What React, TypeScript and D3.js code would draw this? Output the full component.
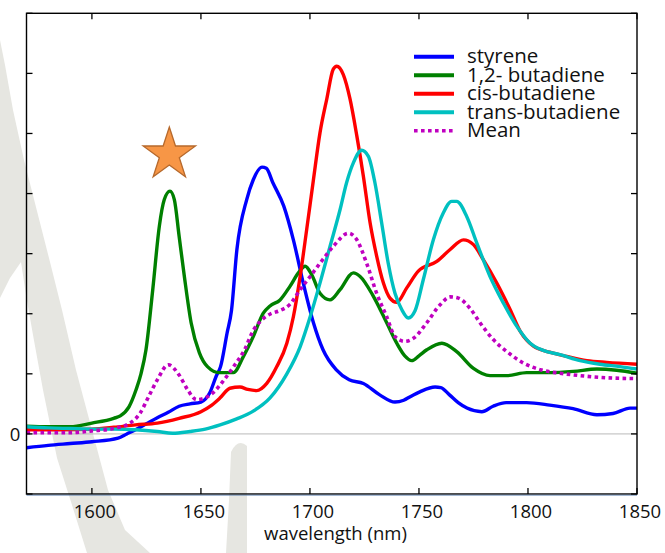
import React from "react";
import * as d3 from "d3";

const W = 665;
const H = 553;

const seriesNames = ["styrene", "1,2- butadiene", "cis-butadiene", "trans-butadiene", "Mean"];
const seriesColors = ["#0000ff", "#008000", "#ff0000", "#00c0c0", "#c000c0"];

const xTicks = [1600, 1650, 1700, 1750, 1800, 1850];
const yTicks = [-1, 0, 1, 2, 3, 4, 5, 6, 7];
const yTickLabels = ["", "0", "", "", "", "", "", "", ""];

const styrene: [number, number][] = [
  [1570, -0.23], [1580, -0.19], [1590, -0.16], [1600, -0.13], [1612, -0.07], [1616, 0], [1620, 0.07],
  [1625, 0.17], [1630, 0.27], [1635, 0.36], [1640, 0.46], [1645, 0.5], [1650, 0.53], [1654, 0.68],
  [1657, 0.96], [1659, 1.12], [1662, 1.68], [1664, 2.05], [1666.5, 3.07], [1671, 3.9], [1674, 4.23],
  [1678, 4.44], [1680, 4.42], [1683, 4.18], [1688, 3.79], [1692.4, 3.23], [1697, 2.5], [1701.6, 1.85],
  [1706, 1.4], [1712, 1.07], [1718, 0.9], [1724.5, 0.84], [1732, 0.65], [1739, 0.53], [1743, 0.56],
  [1746, 0.62], [1750.4, 0.7], [1757.4, 0.78], [1760, 0.77], [1764, 0.65], [1768, 0.52], [1772, 0.43],
  [1778.8, 0.37], [1784, 0.46], [1790, 0.52], [1799.4, 0.52], [1810, 0.48], [1820.7, 0.42],
  [1831.6, 0.32], [1839, 0.34], [1846.8, 0.43], [1850, 0.43],
];

const butadiene12: [number, number][] = [
  [1570, 0.13], [1580, 0.12], [1590, 0.12], [1600, 0.18], [1610, 0.26], [1613, 0.3], [1617, 0.45],
  [1620.2, 0.73], [1622.5, 1.0], [1624.8, 1.4], [1627.9, 2.4], [1630.9, 3.45], [1633.2, 3.9],
  [1635.8, 4.04], [1637.8, 3.9], [1640, 3.29], [1642.4, 2.62], [1645.5, 1.85], [1649.3, 1.35],
  [1653, 1.12], [1658.4, 1.02], [1664.9, 1.02], [1669.5, 1.29], [1674, 1.62], [1678.6, 2.01],
  [1681.7, 2.13], [1686.3, 2.23], [1690.9, 2.46], [1694.7, 2.68], [1697.8, 2.79], [1700.8, 2.65],
  [1704.6, 2.34], [1709.2, 2.23], [1713.8, 2.4], [1719.9, 2.68], [1723, 2.62], [1729.1, 2.29],
  [1735.2, 1.85], [1739.8, 1.51], [1743.5, 1.3], [1746.7, 1.22], [1750, 1.3], [1753.6, 1.4],
  [1760.5, 1.51], [1767.3, 1.37], [1775, 1.09], [1782.6, 0.97], [1790.3, 0.97], [1799.4, 1.02],
  [1810, 1.02], [1820.8, 1.04], [1831.6, 1.08], [1840.7, 1.06], [1850, 1.01],
];

const cisButadiene: [number, number][] = [
  [1570, 0.07], [1585, 0.07], [1600, 0.08], [1610, 0.11], [1620, 0.15], [1630, 0.18], [1640, 0.26],
  [1650, 0.37], [1655, 0.48], [1658.8, 0.6], [1663.3, 0.76], [1667.9, 0.78], [1671.5, 0.74],
  [1675.6, 0.72], [1680.2, 0.84], [1684.8, 1.12], [1689.4, 1.51], [1692.4, 1.95], [1695.5, 2.62],
  [1698.5, 3.4], [1701.6, 4.23], [1704.6, 5.01], [1707.7, 5.57], [1710.7, 6.07], [1712.3, 6.12],
  [1715.3, 5.98], [1718.4, 5.57], [1721.5, 4.96], [1724.5, 4.29], [1727.6, 3.51], [1730.6, 2.96],
  [1733.7, 2.51], [1736.7, 2.26], [1739.8, 2.19], [1744.4, 2.43], [1749.7, 2.71], [1758.2, 2.87],
  [1764.3, 3.07], [1770.4, 3.23], [1775, 3.15], [1779.5, 2.9], [1785.7, 2.51], [1791.8, 2.07],
  [1796.4, 1.71], [1802.5, 1.46], [1810, 1.36], [1817.8, 1.29], [1827, 1.22], [1836.1, 1.19],
  [1850, 1.16],
];

const transButadiene: [number, number][] = [
  [1570, 0.12], [1580, 0.1], [1590, 0.09], [1600, 0.08], [1610, 0.08], [1620, 0.07], [1630, 0.04],
  [1637, 0.01], [1645, 0.04], [1652, 0.08], [1658.8, 0.15], [1666.4, 0.25], [1674, 0.38],
  [1681.7, 0.6], [1689.4, 1.0], [1695.5, 1.45], [1700.1, 1.95], [1704.6, 2.51], [1709.2, 3.12],
  [1713.8, 3.73], [1716.8, 4.18], [1719.9, 4.51], [1723.7, 4.72], [1726.8, 4.62], [1729.8, 4.18],
  [1732.9, 3.51], [1735.9, 2.84], [1739, 2.34], [1742.1, 2.07], [1745.1, 1.93], [1748.2, 2.05],
  [1752, 2.57], [1756.6, 3.23], [1761.2, 3.68], [1765, 3.87], [1767.3, 3.87], [1771.9, 3.62],
  [1776.5, 3.18], [1782.6, 2.62], [1788.7, 2.18], [1794.9, 1.79], [1801, 1.51], [1807, 1.39],
  [1814.7, 1.32], [1823.9, 1.22], [1833, 1.16], [1842.2, 1.12], [1850, 1.08],
];

const meanSeries: [number, number][] = [
  [1570, 0.02], [1590, 0.02], [1600, 0.05], [1610, 0.09], [1617, 0.17], [1622, 0.34], [1626, 0.62],
  [1630, 0.9], [1635, 1.15], [1640, 0.98], [1644, 0.73], [1648, 0.57], [1652, 0.6], [1656, 0.7],
  [1660, 0.87], [1665, 1.12], [1670, 1.4], [1674, 1.72], [1678, 1.9], [1682, 2.0], [1686, 2.05],
  [1690.9, 2.16], [1695.5, 2.4], [1700.1, 2.62], [1704.6, 2.84], [1710.7, 3.12], [1717.6, 3.34],
  [1721.5, 3.23], [1726, 2.84], [1730.6, 2.34], [1735.2, 1.95], [1739, 1.62], [1743.6, 1.54],
  [1747.4, 1.59], [1753.6, 1.85], [1759.7, 2.15], [1764.3, 2.28], [1768.1, 2.26], [1773.4, 2.09],
  [1778, 1.85], [1784.1, 1.57], [1790.3, 1.37], [1797.9, 1.18], [1805.5, 1.07], [1814.7, 1.01],
  [1823.9, 0.97], [1833, 0.94], [1850, 0.92],
];

const allSeries = [styrene, butadiene12, cisButadiene, transButadiene, meanSeries];

// star marker position (data units)
const starPoint: [number, number] = [1635.5, 4.65];

const FONT = "'Open Sans', 'Noto Sans', sans-serif";

export default function App() {
  const left = 26.5, right = 637, top = 13.3, bottom = 494;
  const x = d3.scaleLinear().domain([1570, 1850]).range([left, right]);
  const y = d3.scaleLinear().domain([-1, 7]).range([bottom, top]);
  const line = d3
    .line<[number, number]>()
    .x((d) => x(d[0]))
    .y((d) => y(d[1]))
    .curve(d3.curveMonotoneX);

  const starPath = (() => {
    const cx = x(starPoint[0]);
    const cy = y(starPoint[1]);
    const R = 27.5, r = R * 0.382;
    const pts: string[] = [];
    for (let i = 0; i < 10; i++) {
      const a = -Math.PI / 2 + (i * Math.PI) / 5;
      const rr = i % 2 === 0 ? R : r;
      pts.push(`${cx + rr * Math.cos(a)},${cy + rr * Math.sin(a)}`);
    }
    return "M" + pts.join("L") + "Z";
  })();

  const wmA =
    "M0,40 L5,65 L13,110 L24,160 L38,215 L50,262 L62,310 L76,370 L92,430 L108,490 L125,530 L150,553 " +
    "L87,553 L72,505 L57,458 L43,390 L33,335 L26,295 L21,262 L10,278 L0,298 Z";
  const wmB = "M229,500 L231,452 Q238,438 247,446 L247,553 L226,553 Z";

  const legendX1 = 414, legendX2 = 454, legendTextX = 467;
  const legendY = [56.7, 75.2, 93.8, 112.3, 130.8];

  return (
    <svg
      width={W}
      height={H}
      style={{ position: "absolute", left: 0, top: 0, background: "#fff" }}
      fontFamily={FONT}
    >
      <rect x={0} y={0} width={W} height={H} fill="#fff" />
      {/* watermark */}
      <path d={wmA} fill="#e6e6e1" />
      <path d={wmB} fill="#e6e6e1" />

      {/* zero line */}
      <line x1={left} x2={right} y1={y(0)} y2={y(0)} stroke="#a8a8a8" strokeWidth={0.8} />

      {/* series */}
      {allSeries.map((s, i) => (
        <path
          key={i}
          d={line(s) || ""}
          fill="none"
          stroke={seriesColors[i]}
          strokeWidth={i === 4 ? 3.6 : 3.4}
          strokeDasharray={i === 4 ? "3.6 3.4" : undefined}
          strokeLinejoin="round"
        />
      ))}

      {/* frame */}
      <rect x={left} y={top} width={right - left} height={bottom - top} fill="none" stroke="#000" strokeWidth={1.4} />
      <line x1={left} x2={right} y1={bottom + 1.2} y2={bottom + 1.2} stroke="#5b7fae" strokeWidth={0.8} />

      {/* x ticks */}
      {xTicks.map((t) => (
        <g key={"xt" + t}>
          <line x1={x(t)} x2={x(t)} y1={top} y2={top + 6} stroke="#000" strokeWidth={1.3} />
          <line x1={x(t)} x2={x(t)} y1={bottom} y2={bottom - 6} stroke="#000" strokeWidth={1.3} />
          <text x={x(t) + 3} y={518} fontSize={18.5} textAnchor="middle" fill="#111">
            {t}
          </text>
        </g>
      ))}

      {/* y ticks */}
      {yTicks.map((t, i) => (
        <g key={"yt" + t}>
          <line x1={left} x2={left + 6} y1={y(t)} y2={y(t)} stroke="#000" strokeWidth={1.3} />
          <line x1={right} x2={right - 6} y1={y(t)} y2={y(t)} stroke="#000" strokeWidth={1.3} />
          {yTickLabels[i] && (
            <text x={15} y={y(t) + 7} fontSize={18.5} textAnchor="middle" fill="#111">
              {yTickLabels[i]}
            </text>
          )}
        </g>
      ))}

      {/* x axis title */}
      <text x={335.5} y={540} fontSize={18.5} textAnchor="middle" fill="#111">
        wavelength (nm)
      </text>

      {/* star */}
      <path d={starPath} fill="#f79646" stroke="#b6692c" strokeWidth={1.3} strokeLinejoin="miter" />

      {/* legend */}
      {seriesNames.map((n, i) => (
        <g key={"lg" + i}>
          <line
            x1={legendX1}
            x2={legendX2}
            y1={legendY[i]}
            y2={legendY[i]}
            stroke={seriesColors[i]}
            strokeWidth={i === 4 ? 3.6 : 4}
            strokeDasharray={i === 4 ? "3.6 3.4" : undefined}
          />
          <text x={legendTextX} y={legendY[i] + 6.6} fontSize={20.5} fill="#111">
            {n}
          </text>
        </g>
      ))}
    </svg>
  );
}
